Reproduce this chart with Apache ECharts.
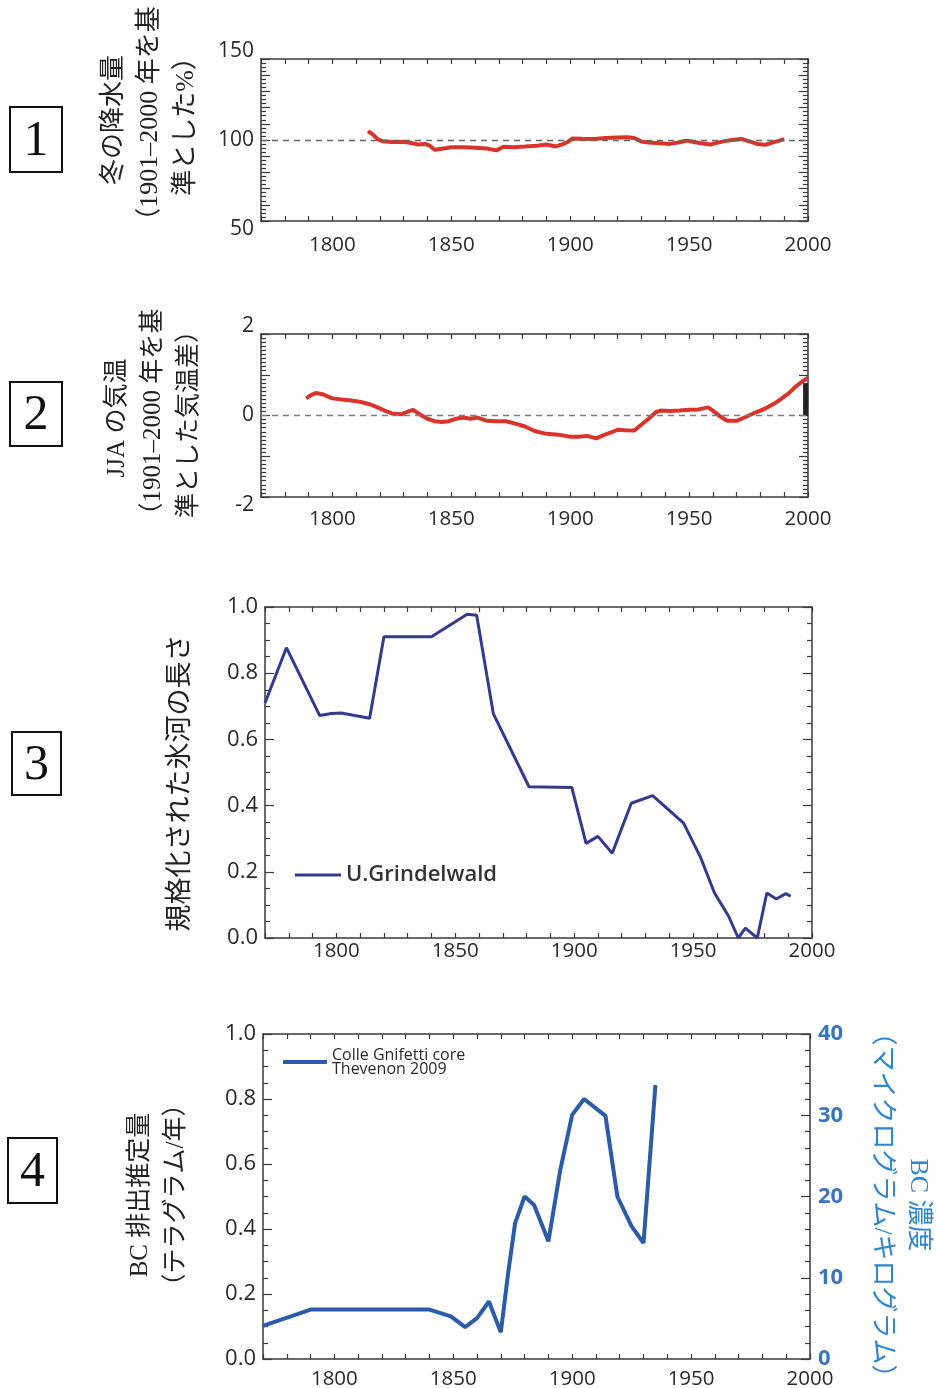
<!DOCTYPE html>
<html>
<head>
<meta charset="utf-8">
<script src="https://cdn.jsdelivr.net/npm/echarts@6/dist/echarts.min.js"></script>
<style>
html, body { margin: 0; padding: 0; background: #fff; }
#chart { width: 936px; height: 1388px; }
</style>
</head>
<body>
<div id="chart"></div>
<script>
// ① 冬の降水量 (1901–2000 年を基準とした%)
const precipYears = [1815, 1817, 1819, 1821, 1825, 1830, 1833, 1836, 1839, 1841, 1843, 1846, 1850, 1855, 1860, 1865, 1869, 1872, 1876, 1881, 1886, 1890, 1894, 1897, 1899, 1901, 1905, 1910, 1915, 1920, 1924, 1927, 1930, 1933, 1938, 1942, 1946, 1949, 1952, 1955, 1959, 1962, 1965, 1968, 1972, 1976, 1979, 1982, 1985, 1988, 1990];
const precipValues = [105.5, 103.5, 100.5, 99.3, 98.8, 98.9, 98.2, 97.2, 97.6, 96.5, 94.0, 94.6, 95.5, 95.6, 95.2, 94.8, 93.6, 95.8, 95.6, 96.0, 96.5, 97.2, 96.0, 97.5, 98.8, 101.0, 100.8, 100.6, 101.2, 101.5, 101.7, 101.2, 99.0, 98.4, 98.0, 97.6, 98.6, 99.6, 98.8, 98.0, 97.2, 98.4, 99.3, 100.0, 100.6, 98.8, 97.5, 97.0, 98.4, 99.6, 100.6];
const precipRef = 100;

// ② JJA の気温 (1901–2000 年を基準とした気温差)
const jjaYears = [1789, 1791, 1793, 1796, 1800, 1804, 1808, 1812, 1816, 1819, 1822, 1825, 1829, 1832, 1834, 1837, 1840, 1843, 1846, 1849, 1852, 1855, 1858, 1861, 1865, 1869, 1873, 1877, 1881, 1885, 1890, 1895, 1900, 1904, 1907, 1911, 1914, 1917, 1920, 1923, 1927, 1930, 1933, 1936, 1938, 1942, 1946, 1950, 1954, 1958, 1960, 1963, 1966, 1970, 1974, 1977, 1980, 1983, 1986, 1989, 1992, 1995, 1998, 2000];
const jjaValues = [0.42, 0.5, 0.55, 0.52, 0.42, 0.39, 0.37, 0.33, 0.27, 0.2, 0.12, 0.05, 0.03, 0.1, 0.14, 0.02, -0.08, -0.14, -0.16, -0.14, -0.08, -0.05, -0.08, -0.05, -0.13, -0.14, -0.14, -0.2, -0.27, -0.38, -0.45, -0.47, -0.52, -0.52, -0.5, -0.56, -0.48, -0.42, -0.35, -0.36, -0.37, -0.22, -0.08, 0.08, 0.12, 0.11, 0.12, 0.14, 0.15, 0.2, 0.12, -0.02, -0.13, -0.13, -0.03, 0.05, 0.12, 0.2, 0.3, 0.42, 0.55, 0.72, 0.85, 0.93];
const jjaEndYears = [1999, 1999];
const jjaEndValues = [0, 0.77];
const jjaRef = 0;

// ③ 規格化された氷河の長さ
const glacierYears = [1770, 1779, 1793, 1798, 1802, 1814, 1820, 1840, 1855, 1859, 1866, 1881, 1899, 1905, 1910, 1916, 1924, 1933, 1946, 1953, 1959, 1965, 1969, 1972, 1977, 1981, 1985, 1989, 1991];
const glacierValues = [0.71, 0.877, 0.672, 0.678, 0.68, 0.664, 0.91, 0.91, 0.978, 0.975, 0.678, 0.457, 0.455, 0.286, 0.307, 0.256, 0.407, 0.43, 0.347, 0.246, 0.136, 0.065, 0.0, 0.03, 0.0, 0.136, 0.118, 0.134, 0.126];

// ④ BC 排出推定量 (テラグラム/年)
const bcYears = [1770, 1790, 1840, 1849, 1855, 1860, 1865, 1870, 1873, 1876, 1880, 1884, 1890, 1895, 1900, 1905, 1914, 1919, 1925, 1930, 1935];
const bcValues = [0.102, 0.152, 0.152, 0.131, 0.098, 0.126, 0.177, 0.082, 0.26, 0.418, 0.5, 0.474, 0.362, 0.582, 0.751, 0.8, 0.748, 0.5, 0.408, 0.357, 0.843];

const yearLabels = [1800, 1850, 1900, 1950, 2000];
const precipLabels = [50, 100, 150];
const jjaLabels = [-2, 0, 2];

const zip = (xs, ys) => xs.map((x, i) => [x, ys[i]]);

const axisColor = '#3a3a3a';
const tickColor = '#3a3a3a';
const labelFont = '"Open Sans", "Noto Sans", sans-serif';
const serifJP = '"Liberation Serif", "DejaVu Serif", "Noto Sans CJK JP", serif';
const sansJP = '"Noto Sans CJK JP", sans-serif';

const grids = [
    { left: 261, top: 59, width: 547, height: 162 },
    { left: 261, top: 334, width: 547, height: 163 },
    { left: 265, top: 607, width: 547, height: 331 },
    { left: 263, top: 1034, width: 547, height: 325 }
];

// 年の軸（下はラベル付き、上は目盛りのみ）
function yearAxes(gi, margin) {
    const base = {
        type: 'value', gridIndex: gi, min: 1770, max: 2000, interval: 10,
        axisLine: { show: true, onZero: false, lineStyle: { color: axisColor, width: 1.5 } },
        axisTick: { show: true, inside: true, length: 5, lineStyle: { color: tickColor, width: 1.2 } },
        splitLine: { show: false }
    };
    return [
        Object.assign({}, base, {
            position: 'bottom',
            axisLabel: {
                margin: margin, color: '#2a2a2a', fontSize: 20.5, fontFamily: labelFont,
                formatter: v => yearLabels.includes(v) ? String(v) : ''
            }
        }),
        Object.assign({}, base, { position: 'top', axisLabel: { show: false } })
    ];
}

function valueAxes(gi, o) {
    const base = {
        type: 'value', gridIndex: gi, min: o.min, max: o.max, interval: o.interval,
        axisLine: { show: true, onZero: false, lineStyle: { color: axisColor, width: 1.5 } },
        axisTick: { show: true, inside: true, length: 9, lineStyle: { color: tickColor, width: 1.2 } },
        minorTick: { show: true, splitNumber: o.minor, length: 5, lineStyle: { color: tickColor, width: 1.2 } },
        splitLine: { show: false }, minorSplitLine: { show: false }
    };
    const left = Object.assign({}, base, {
        position: 'left',
        axisLabel: Object.assign({
            margin: 7, color: '#2a2a2a', fontSize: o.labelSize, fontFamily: labelFont,
            formatter: o.fmt
        }, o.labelExtra || {})
    });
    const right = Object.assign({}, base, {
        position: 'right',
        axisLabel: o.right ? Object.assign({ margin: 8, fontSize: 22, fontFamily: labelFont }, o.right) : { show: false }
    });
    if (o.rightRange) {
        right.min = o.rightRange[0]; right.max = o.rightRange[1]; right.interval = o.rightRange[2];
        right.minorTick = Object.assign({}, base.minorTick, { splitNumber: o.rightRange[3] });
    }
    return [left, right];
}

const edgeAlign = { lineHeight: 16, verticalAlignMaxLabel: 'bottom', verticalAlignMinLabel: 'top' };

const xAxis = [].concat(
    yearAxes(0, 14), yearAxes(1, 12), yearAxes(2, 3), yearAxes(3, 10)
);
const yAxis = [].concat(
    valueAxes(0, { min: 50, max: 150, interval: 10, minor: 4, labelSize: 21, fmt: v => precipLabels.includes(v) ? String(v) : '', labelExtra: edgeAlign }),
    valueAxes(1, { min: -2, max: 2, interval: 1, minor: 10, labelSize: 21, fmt: v => jjaLabels.includes(v) ? String(v) : '', labelExtra: edgeAlign }),
    valueAxes(2, { min: 0, max: 1, interval: 0.2, minor: 4, labelSize: 22, fmt: v => v.toFixed(1) }),
    valueAxes(3, {
        min: 0, max: 1, interval: 0.2, minor: 4, labelSize: 22, fmt: v => v.toFixed(1),
        rightRange: [0, 40, 10, 5],
        right: { color: '#3c74bd', fontWeight: 'bold', formatter: v => String(v) }
    })
);

const dashRef = (val, color) => ({
    silent: true, symbol: 'none', label: { show: false },
    lineStyle: { type: [6, 5], color: color, width: 1.3 },
    data: [{ yAxis: val }]
});

const series = [
    {
        type: 'line', xAxisIndex: 0, yAxisIndex: 0, data: zip(precipYears, precipValues),
        symbol: 'none', lineStyle: { color: '#d9342b', width: 4 }, itemStyle: { color: '#d9342b' },
        markLine: dashRef(precipRef, '#666'), z: 3
    },
    {
        type: 'line', xAxisIndex: 2, yAxisIndex: 2, data: zip(jjaEndYears, jjaEndValues),
        symbol: 'none', lineStyle: { color: '#222', width: 5 }, z: 2
    },
    {
        type: 'line', xAxisIndex: 2, yAxisIndex: 2, data: zip(jjaYears, jjaValues),
        symbol: 'none', lineStyle: { color: '#d9342b', width: 4 }, itemStyle: { color: '#d9342b' },
        markLine: dashRef(jjaRef, '#6f7f8c'), z: 3
    },
    {
        name: 'U.Grindelwald',
        type: 'line', xAxisIndex: 4, yAxisIndex: 4, data: zip(glacierYears, glacierValues),
        symbol: 'none', lineStyle: { color: '#343a8c', width: 3 }, itemStyle: { color: '#343a8c' }
    },
    {
        name: 'Colle Gnifetti core\nThevenon 2009',
        type: 'line', xAxisIndex: 6, yAxisIndex: 6, data: zip(bcYears, bcValues),
        symbol: 'none', lineStyle: { color: '#2b5ca8', width: 4 }, itemStyle: { color: '#2b5ca8' }
    }
];

const legend = [
    {
        data: ['U.Grindelwald'], left: 290, top: 859, icon: 'rect', itemWidth: 46, itemHeight: 3,
        textStyle: { fontSize: 22, fontWeight: 600, color: '#333', fontFamily: labelFont }
    },
    {
        data: ['Colle Gnifetti core\nThevenon 2009'], left: 278, top: 1036, icon: 'rect', itemWidth: 44, itemHeight: 4,
        textStyle: { fontSize: 16, lineHeight: 14, color: '#2a2a2a', fontFamily: labelFont, padding: [14, 0, 0, 0] }
    }
];

function numberBox(n, x, y, w, h) {
    return [
        { type: 'rect', shape: { x: x, y: y, width: w, height: h }, style: { fill: 'none', stroke: '#111', lineWidth: 2 } },
        {
            type: 'text', x: x + w / 2, y: y + h / 2 + 2,
            style: { text: String(n), fontSize: 50, fontFamily: serifJP, fill: '#111', align: 'center', verticalAlign: 'middle', textAlign: 'center', textVerticalAlign: 'middle' }
        }
    ];
}

function sideTitle(text, x, y, rot, font, color, size) {
    return {
        type: 'text', x: x, y: y, rotation: rot,
        style: {
            text: text, fontSize: size, fontFamily: font, fill: color, lineHeight: 36,
            align: 'center', verticalAlign: 'middle', textAlign: 'center', textVerticalAlign: 'middle'
        }
    };
}

const graphic = [].concat(
    numberBox(1, 10, 107, 52, 65),
    numberBox(2, 10, 382, 52, 64),
    numberBox(3, 12, 732, 49, 63),
    numberBox(4, 8, 1138, 49, 65),
    [
        sideTitle('冬の降水量\n（1901–2000 年を基\n準とした%）', 150, 120, Math.PI / 2, serifJP, '#222', 26),
        sideTitle('JJA の気温\n（1901–2000 年を基\n準とした気温差）', 153, 418, Math.PI / 2, serifJP, '#222', 25),
        sideTitle('規格化された氷河の長さ', 178, 783, Math.PI / 2, sansJP, '#222', 27),
        sideTitle('BC 排出推定量\n（テラグラム/年）', 158, 1195, Math.PI / 2, serifJP, '#222', 25),
        sideTitle('BC 濃度\n（マイクログラム/キログラム）', 900, 1205, -Math.PI / 2, serifJP, '#2e86d1', 26)
    ]
);

const chart = echarts.init(document.getElementById('chart'), null, { renderer: 'canvas' });
chart.setOption({
    animation: false,
    backgroundColor: '#fff',
    grid: grids.map(g => Object.assign({ outerBoundsMode: 'none', containLabel: false }, g)),
    xAxis: xAxis,
    yAxis: yAxis,
    legend: legend,
    series: series,
    graphic: graphic
});
</script>
</body>
</html>
